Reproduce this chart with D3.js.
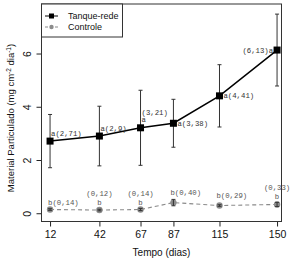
<!DOCTYPE html>
<html>
<head>
<meta charset="utf-8">
<script src="https://cdn.jsdelivr.net/npm/d3@7"></script>
<style>
  body { margin: 0; background: #fff; }
  svg { display: block; }
</style>
</head>
<body>
<div id="chart"></div>
<script>
// days sampled
var days = [12, 42, 67, 87, 115, 150];

// Tanque-rede (cage) means and sd
var tanqueMean = [2.71, 2.9, 3.21, 3.38, 4.41, 6.13];
var tanqueSd = [1.0, 1.12, 1.41, 0.9, 1.17, 1.35];
var tanqueText = ["(2,71)", "(2,9)", "(3,21)", "(3,38)", "(4,41)", "(6,13)"];
var tanqueLetter = ["a", "a", "a", "a", "a", "a"];

// Controle means and sd
var controleMean = [0.14, 0.12, 0.14, 0.40, 0.29, 0.33];
var controleSd = [0.03, 0.03, 0.04, 0.12, 0.03, 0.08];
var controleText = ["(0,14)", "(0,12)", "(0,14)", "(0,40)", "(0,29)", "(0,33)"];
var controleLetter = ["b", "b", "b", "b", "b", "b"];

var yTicks = [0, 2, 4, 6];

var W = 290, H = 260;
var box = { left: 41.5, right: 281.5, top: 4, bottom: 221.5 };

var svg = d3.select("#chart").append("svg")
  .attr("width", W)
  .attr("height", H);

var x = d3.scaleLinear().domain([6.8, 152.7]).range([box.left, box.right]);
var y = d3.scaleLinear().domain([-0.31, 7.86]).range([box.bottom, box.top]);

// axes, R style: ticks outside, box around
var xAxis = svg.append("g")
  .attr("transform", "translate(0," + box.bottom + ")")
  .call(d3.axisBottom(x).tickValues(days).tickSize(5).tickPadding(4));
var yAxis = svg.append("g")
  .attr("transform", "translate(" + box.left + ",0)")
  .call(d3.axisLeft(y).tickValues(yTicks).tickSize(5).tickPadding(4));

[xAxis, yAxis].forEach(function(a) {
  a.select(".domain").remove();
  a.selectAll("line").attr("stroke", "#222");
  a.selectAll("text")
    .attr("fill", "#111")
    .style("font-family", "Liberation Sans, Arial, sans-serif")
    .style("font-size", "10.5px");
});

// y tick labels rotated like R (las=0)
yAxis.selectAll(".tick text")
  .attr("x", null).attr("dy", null)
  .attr("text-anchor", "middle")
  .attr("transform", "translate(-11,0) rotate(-90)");

svg.append("rect")
  .attr("x", box.left).attr("y", box.top)
  .attr("width", box.right - box.left)
  .attr("height", box.bottom - box.top)
  .attr("fill", "none")
  .attr("stroke", "#333")
  .attr("stroke-width", 1);

// axis titles
svg.append("text")
  .attr("x", (box.left + box.right) / 2)
  .attr("y", 256)
  .attr("text-anchor", "middle")
  .style("font-family", "Liberation Sans, Arial, sans-serif")
  .style("font-size", "10px")
  .attr("fill", "#111")
  .text("Tempo (dias)");

var ylab = svg.append("text")
  .attr("transform", "translate(14," + 118 + ") rotate(-90)")
  .attr("text-anchor", "middle")
  .style("font-family", "Liberation Sans, Arial, sans-serif")
  .style("font-size", "9.5px")
  .attr("fill", "#111");
ylab.append("tspan").text("Material Particulado (mg cm");
ylab.append("tspan").attr("dy", -3).style("font-size", "6.5px").text("-2");
ylab.append("tspan").attr("dy", 3).text(" dia");
ylab.append("tspan").attr("dy", -3).style("font-size", "6.5px").text("-1");
ylab.append("tspan").attr("dy", 3).text(")");

// helper for error bars
function errorBars(mean, sd, color, width) {
  var g = svg.append("g").attr("stroke", color).attr("stroke-width", width).attr("fill", "none");
  days.forEach(function(d, i) {
    var x0 = x(d), y1 = y(mean[i] + sd[i]), y2 = y(mean[i] - sd[i]);
    g.append("line").attr("x1", x0).attr("x2", x0).attr("y1", y1).attr("y2", y2);
    g.append("line").attr("x1", x0 - 2).attr("x2", x0 + 2).attr("y1", y1).attr("y2", y1);
    g.append("line").attr("x1", x0 - 2).attr("x2", x0 + 2).attr("y1", y2).attr("y2", y2);
  });
}

var line = d3.line()
  .x(function(d) { return x(d[0]); })
  .y(function(d) { return y(d[1]); });

// Controle series (grey, dashed)
svg.append("path")
  .datum(days.map(function(d, i) { return [d, controleMean[i]]; }))
  .attr("d", line)
  .attr("fill", "none")
  .attr("stroke", "#8a8a8a")
  .attr("stroke-width", 1.1)
  .attr("stroke-dasharray", "4,3");
svg.append("g").selectAll("circle")
  .data(days)
  .enter().append("circle")
  .attr("cx", function(d) { return x(d); })
  .attr("cy", function(d, i) { return y(controleMean[i]); })
  .attr("r", 3.2)
  .attr("fill", "#8c8c8c");
errorBars(controleMean, controleSd, "#333", 1);

// Tanque-rede series (black, solid)
errorBars(tanqueMean, tanqueSd, "#333", 1);
svg.append("path")
  .datum(days.map(function(d, i) { return [d, tanqueMean[i]]; }))
  .attr("d", line)
  .attr("fill", "none")
  .attr("stroke", "#000")
  .attr("stroke-width", 1.5);
svg.append("g").selectAll("rect")
  .data(days)
  .enter().append("rect")
  .attr("x", function(d) { return x(d) - 3.5; })
  .attr("y", function(d, i) { return y(tanqueMean[i]) - 3.5; })
  .attr("width", 7)
  .attr("height", 7)
  .attr("fill", "#000");

// annotations (letter + mean), placement per point
function label(px, py, txt, anchor, color) {
  svg.append("text")
    .attr("x", px).attr("y", py)
    .attr("text-anchor", anchor)
    .style("font-family", "Liberation Mono, Courier New, monospace")
    .style("font-size", "7.3px")
    .attr("fill", color)
    .text(txt);
}

var tCol = "#333";
days.forEach(function(d, i) {
  var px = x(d), py = y(tanqueMean[i]);
  var t = tanqueLetter[i] + tanqueText[i];
  if (i === 0 || i === 1) label(px + 1, py - 5, t, "start", tCol);
  else if (i === 2) {
    label(px + 1, py - 13, tanqueText[i], "start", tCol);
    label(px + 1, py - 5.5, tanqueLetter[i], "start", tCol);
  } else if (i === 5) label(px - 4, py + 2.5, tanqueText[i] + tanqueLetter[i], "end", tCol);
  else label(px + 4, py + 2.5, t, "start", tCol);
});

var cCol = "#555";
days.forEach(function(d, i) {
  var px = x(d), py = y(controleMean[i]);
  var t = controleLetter[i] + controleText[i];
  if (i === 0) label(px - 2, py - 5, t, "start", cCol);
  else if (i === 3 || i === 4) label(px - 3, py - 8, t, "start", cCol);
  else {
    label(px, py - 14, controleText[i], "middle", cCol);
    label(px, py - 5, controleLetter[i], "middle", cCol);
  }
});

// legend
var lg = svg.append("g");
lg.append("rect")
  .attr("x", box.left).attr("y", box.top)
  .attr("width", 81).attr("height", 33)
  .attr("fill", "#fff")
  .attr("stroke", "#333");
var legendItems = [
  { name: "Tanque-rede", color: "#000", dash: null, shape: "square" },
  { name: "Controle", color: "#8a8a8a", dash: "3,2", shape: "circle" }
];
legendItems.forEach(function(it, i) {
  var ly = 16 + i * 11;
  lg.append("line")
    .attr("x1", 45).attr("x2", 58).attr("y1", ly).attr("y2", ly)
    .attr("stroke", it.color).attr("stroke-width", 1)
    .attr("stroke-dasharray", it.dash);
  if (it.shape === "square") {
    lg.append("rect").attr("x", 49).attr("y", ly - 2.5).attr("width", 5).attr("height", 5).attr("fill", "#000");
  } else {
    lg.append("circle").attr("cx", 51.5).attr("cy", ly).attr("r", 2.2).attr("fill", "#8c8c8c");
  }
  lg.append("text")
    .attr("x", 68).attr("y", ly + 3)
    .style("font-family", "Liberation Sans, Arial, sans-serif")
    .style("font-size", "9px")
    .attr("fill", "#111")
    .text(it.name);
});
</script>
</body>
</html>
